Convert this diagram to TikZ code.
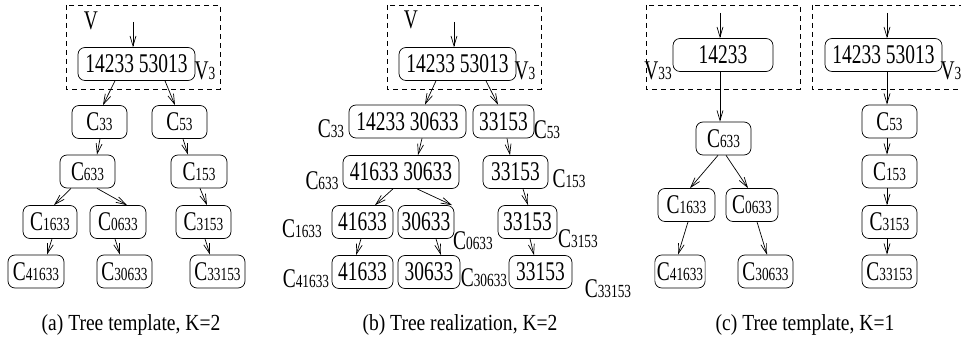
\documentclass[tikz,border=0pt]{standalone}
\usepackage{fontspec}
\setmainfont[FakeStretch=0.72]{Liberation Serif}
\newfontfamily\nodefont[FakeStretch=0.72]{Liberation Serif}
\newfontfamily\capfont[FakeStretch=0.85]{Liberation Serif}
\usetikzlibrary{arrows.meta}
% smaller index digits set on the baseline
\newcommand\idx[1]{{\fontsize{18.5}{18.5}\selectfont #1}}
\begin{document}
\begin{tikzpicture}[x=1pt,y=-1pt,
  box/.style={draw, rounded corners=7pt, minimum height=33pt, inner xsep=2pt,
    inner ysep=0pt, line width=0.7pt, font=\nodefont\fontsize{27}{27}\selectfont},
  lbl/.style={inner sep=0pt, anchor=base, font=\nodefont\fontsize{27}{27}\selectfont},
  captxt/.style={inner sep=0pt, anchor=base, font=\capfont\fontsize{23}{23}\selectfont},
  arr/.style={-{Straight Barb[length=10pt,width=6pt]}, line width=0.7pt},
  frame/.style={draw, dash pattern=on 5pt off 4pt, line width=0.7pt}]
\useasboundingbox (0,0) rectangle (961,352);
\clip (0,0) rectangle (961,352);

% ---------- (a) tree template, K=2 ----------
\draw[frame] (66,5) rectangle (220,89);
\node[lbl] (aV) at (91,30) {V};
\coordinate (ain) at (133,22);
\node[box, minimum width=117pt] (a0) at (136.5,64) {14233 53013};
\node[lbl] (aV3) at (205,80) {V\idx{3}};
\node[box, minimum width=55pt] (a33) at (99.5,122) {C\idx{33}};
\node[box, minimum width=55pt] (a53) at (179.5,122) {C\idx{53}};
\node[box, minimum width=55pt] (a633) at (87.5,171.5) {C\idx{633}};
\node[box, minimum width=56pt] (a153) at (199,171.5) {C\idx{153}};
\node[box, minimum width=54pt] (a1633) at (50,222) {C\idx{1633}};
\node[box, minimum width=56pt] (a0633) at (118,222) {C\idx{0633}};
\node[box, minimum width=55pt] (a3153) at (203.5,222) {C\idx{3153}};
\node[box, minimum width=56pt] (a41633) at (36,271.5) {C\idx{41633}};
\node[box, minimum width=55pt] (a30633) at (124.5,271.5) {C\idx{30633}};
\node[box, minimum width=55pt] (a33153) at (217.5,271.5) {C\idx{33153}};

\draw[arr] (ain) -- (ain |- a0.north);
\draw[arr] ([xshift=-21.5pt]a0.south) -- ([xshift=3.5pt]a33.north);
\draw[arr] ([xshift=28.5pt]a0.south) -- ([xshift=-4.5pt]a53.north);
\draw[arr] ([xshift=0.5pt]a33.south) -- ([xshift=9.5pt]a633.north);
\draw[arr] ([xshift=3.5pt]a53.south) -- ([xshift=-11pt]a153.north);
\draw[arr] ([xshift=-16.5pt]a633.south) -- ([xshift=4pt]a1633.north);
\draw[arr] ([xshift=9.5pt]a633.south) -- ([xshift=9pt]a0633.north);
\draw[arr] ([xshift=1pt]a153.south) -- ([xshift=3.5pt]a3153.north);
\draw[arr] ([xshift=2pt]a1633.south) -- ([xshift=11pt]a41633.north);
\draw[arr] ([xshift=-3pt]a0633.south) -- ([xshift=-4.5pt]a30633.north);
\draw[arr] ([xshift=1.5pt]a3153.south) -- ([xshift=-7.5pt]a33153.north);

\node[captxt] (capa) at (131,331) {(a) Tree template, K=2};

% ---------- (b) tree realization, K=2 ----------
\draw[frame] (387,5) rectangle (541,89);
\node[lbl] (bV) at (411,29) {V};
\coordinate (bin) at (454,22);
\node[box, minimum width=117pt] (b0) at (457.5,64) {14233 53013};
\node[lbl] (bV3) at (525,80) {V\idx{3}};
\node[box, minimum width=117pt] (b33) at (407.5,121.5) {14233 30633};
\node[box, minimum width=61pt] (b53) at (503.5,121.5) {33153};
\node[box, minimum width=116pt] (b633) at (401,172) {41633 30633};
\node[box, minimum width=65pt] (b153) at (515.5,172) {33153};
\node[box, minimum width=61pt] (b1633) at (362.5,222) {41633};
\node[box, minimum width=56pt] (b0633) at (426,222) {30633};
\node[box, minimum width=59pt] (b3153) at (527.5,222) {33153};
\node[box, minimum width=61pt] (b41633) at (362.5,272) {41633};
\node[box, minimum width=62pt] (b30633) at (429,272) {30633};
\node[box, minimum width=63pt] (b33153) at (540.5,272) {33153};

\node[lbl] (lb33) at (331,138) {C\idx{33}};
\node[lbl] (lb53) at (547,139) {C\idx{53}};
\node[lbl] (lb633) at (322,190) {C\idx{633}};
\node[lbl] (lb153) at (569,188) {C\idx{153}};
\node[lbl] (lb1633) at (302,238) {C\idx{1633}};
\node[lbl] (lb0633) at (473,250) {C\idx{0633}};
\node[lbl] (lb3153) at (578,248) {C\idx{3153}};
\node[lbl] (lb41633) at (306,288) {C\idx{41633}};
\node[lbl] (lb30633) at (484,287) {C\idx{30633}};
\node[lbl] (lb33153) at (608,298) {C\idx{33153}};

\draw[arr] (bin) -- (bin |- b0.north);
\draw[arr] ([xshift=-21.5pt]b0.south) -- ([xshift=17.5pt]b33.north);
\draw[arr] ([xshift=28.5pt]b0.south) -- ([xshift=-5.5pt]b53.north);
\draw[arr] ([xshift=14.5pt]b33.south) -- ([xshift=17pt]b633.north);
\draw[arr] ([xshift=3.5pt]b53.south) -- ([xshift=-5.5pt]b153.north);
\draw[arr] ([xshift=-8pt]b633.south) -- ([xshift=12.5pt]b1633.north);
\draw[arr] ([xshift=16pt]b633.south) -- ([xshift=26pt]b0633.north);
\draw[arr] ([xshift=7.5pt]b153.south) -- ([xshift=0.5pt]b3153.north);
\draw[arr] ([xshift=-1.5pt]b1633.south) -- ([xshift=-6.5pt]b41633.north);
\draw[arr] ([xshift=10pt]b0633.south) -- ([xshift=12pt]b30633.north);
\draw[arr] ([xshift=2.5pt]b3153.south) -- ([xshift=-6.5pt]b33153.north);

\node[captxt] (capb) at (460,331) {(b) Tree realization, K=2};

% ---------- (c) tree templates, K=1 ----------
\draw[frame] (646,5) rectangle (800,89);
\coordinate (cin) at (720,13);
\node[box, minimum width=100pt] (c0) at (723,55) {14233};
\node[lbl] (cV33) at (658,80) {V\idx{33}};
\node[box, minimum width=55pt] (c633) at (723.5,138.5) {C\idx{633}};
\node[box, minimum width=57pt] (c1633) at (686.5,205) {C\idx{1633}};
\node[box, minimum width=52pt] (c0633) at (752,205) {C\idx{0633}};
\node[box, minimum width=50pt] (c41633) at (680,271.5) {C\idx{41633}};
\node[box, minimum width=55pt] (c30633) at (765.5,271.5) {C\idx{30633}};

\draw[arr] (cin) -- (cin |- c0.north);
\draw[arr] ([xshift=-3pt]c0.south) -- ([xshift=-3.5pt]c633.north);
\draw[arr] ([xshift=-5.5pt]c633.south) -- ([xshift=3.5pt]c1633.north);
\draw[arr] ([xshift=2.5pt]c633.south) -- ([xshift=-4pt]c0633.north);
\draw[arr] ([xshift=1.5pt]c1633.south) -- ([xshift=-2pt]c41633.north);
\draw[arr] ([xshift=5pt]c0633.south) -- ([xshift=1.5pt]c30633.north);

\draw[frame] (812,5) rectangle (975,89);
\coordinate (din) at (887,13);
\node[box, minimum width=117pt] (d0) at (883.5,55) {14233 53013};
\node[lbl] (dV3) at (951,80) {V\idx{3}};
\node[box, minimum width=55pt] (d53) at (889.5,121.5) {C\idx{53}};
\node[box, minimum width=55pt] (d153) at (889.5,171.5) {C\idx{153}};
\node[box, minimum width=55pt] (d3153) at (889.5,222) {C\idx{3153}};
\node[box, minimum width=55pt] (d33153) at (889.5,271.5) {C\idx{33153}};

\draw[arr] (din) -- (din |- d0.north);
\draw[arr] ([xshift=3.5pt]d0.south) -- ([xshift=-2.5pt]d53.north);
\draw[arr] ([xshift=-2.5pt]d53.south) -- ([xshift=-2.5pt]d153.north);
\draw[arr] ([xshift=-2.5pt]d153.south) -- ([xshift=-2.5pt]d3153.north);
\draw[arr] ([xshift=-2.5pt]d3153.south) -- ([xshift=-2.5pt]d33153.north);

\node[captxt] (capc) at (805,331) {(c) Tree template, K=1};
\end{tikzpicture}
\end{document}
